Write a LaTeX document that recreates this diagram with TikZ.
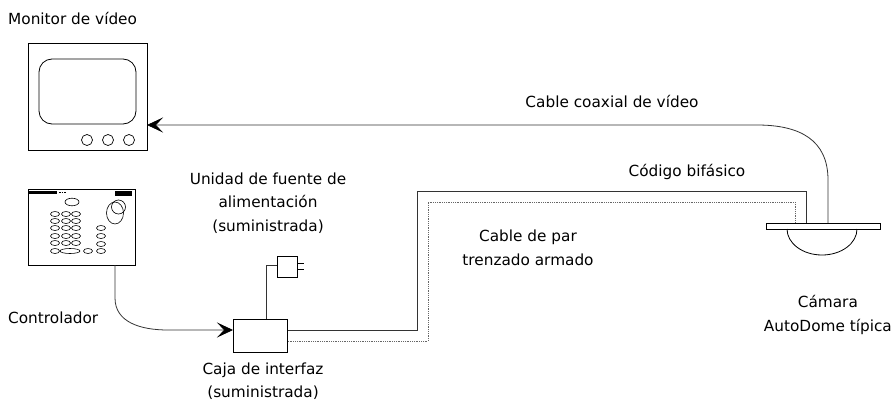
\documentclass[tikz,border=0pt]{standalone}
\usepackage{fontspec}
\setmainfont{DejaVu Sans}
\usetikzlibrary{arrows.meta}
\begin{document}
\begin{tikzpicture}[x=1pt,y=-1pt,
  lbl/.style={align=center,inner sep=0pt,font=\fontsize{15.3}{23.5}\selectfont},
  wire/.style={line width=0.8pt,draw=black!80},
  dotwire/.style={line width=0.8pt,draw=black!60,densely dotted},
  box/.style={draw,line width=0.8pt,inner sep=0pt,anchor=north west},
  tip/.style={-{Stealth[length=16pt,width=15pt,inset=7pt,black]}},
  key/.style={line width=0.6pt}]
\useasboundingbox (0,0) rectangle (893,412);

% video monitor
\node[box,minimum width=119pt,minimum height=107pt] (mon) at (28,43) {};
\draw[line width=0.8pt,rounded corners=13pt] (39,59) rectangle (136,124);
\foreach \cx in {87,108,129} \draw[line width=0.7pt] (\cx,140) circle[radius=5.5];
\coordinate (monin) at (147,125);

% controller keyboard
\node[box,minimum width=107pt,minimum height=76pt] (ctl) at (28,189) {};
\fill (29,191) rectangle (57,193.5);
\draw[line width=1pt,dash pattern=on 1.5pt off 1pt] (59,192) -- (66,192);
\fill (115,190.5) rectangle (132,195.5);
\draw[key] (115,213) ellipse[x radius=8.5,y radius=11];
\draw[key] (118.5,207) circle[radius=7];
\draw[key] (72,202) ellipse[x radius=7,y radius=3.8];
\foreach \ky in {214,221,228,236,243}
  \foreach \kx in {55,66,76}
    \draw[key] (\kx,\ky) ellipse[x radius=4.5,y radius=2.5];
\foreach \ky in {228,236,244,251}
  \draw[key] (101,\ky) ellipse[x radius=4.5,y radius=2.5];
\draw[key] (55,251) ellipse[x radius=4.5,y radius=2.5];
\draw[key] (70,251) ellipse[x radius=10,y radius=2.5];
\draw[key] (88,251) ellipse[x radius=4.5,y radius=2.5];
\coordinate (ctlout) at (115,265);

% interface box and power supply plug
\node[box,minimum width=54pt,minimum height=33pt] (ifc) at (233,319) {};
\node[box,minimum width=20pt,minimum height=21pt] (psu) at (277,256) {};
\draw[line width=0.8pt] (psu.east |- 0,263) -- ++(6,0);
\draw[line width=0.8pt] (psu.east |- 0,269) -- ++(6,0);

% dome camera
\node[box,minimum width=114pt,minimum height=6pt] (cam) at (766,223) {};
\draw[line width=0.8pt] (787,229) arc[start angle=180,end angle=0,x radius=35,y radius=26];

% connections
\draw[wire] (ifc.north -| 266,0) -- (266,265) -- (psu.west |- 0,265);
\draw[wire,tip] (ctlout) -- (115,298) .. controls (115,322) and (140,330) .. (168,330) -- (ifc.west |- 0,330);
\draw[wire] (ifc.east |- 0,330) -- (417,330) -- (417,191) -- (806,191) -- (cam.north -| 806,0);
\draw[dotwire] (ifc.east |- 0,341) -- (428,341) -- (428,202) -- (795,202) -- (cam.north -| 795,0);
\draw[wire,tip] (cam.north -| 828,0) -- (828,180) .. controls (828,140) and (800,125) .. (757,125) -- (monin);

% labels
\node[lbl,anchor=west] (tmon) at (8,18) {Monitor de vídeo};
\node[lbl] (tcoax) at (612,101) {Cable coaxial de vídeo};
\node[lbl] (tpsu) at (268,203) {Unidad de fuente de\\alimentación\\(suministrada)};
\node[lbl] (tbif) at (687,172) {Código bifásico};
\node[lbl] (tpar) at (528,248) {Cable de par\\trenzado armado};
\node[lbl,anchor=east] (tcam) at (892,315) {Cámara\\AutoDome típica};
\node[lbl,anchor=west] (tctl) at (8,318) {Controlador};
\node[lbl] (tifc) at (263,381) {Caja de interfaz\\(suministrada)};
\end{tikzpicture}
\end{document}
